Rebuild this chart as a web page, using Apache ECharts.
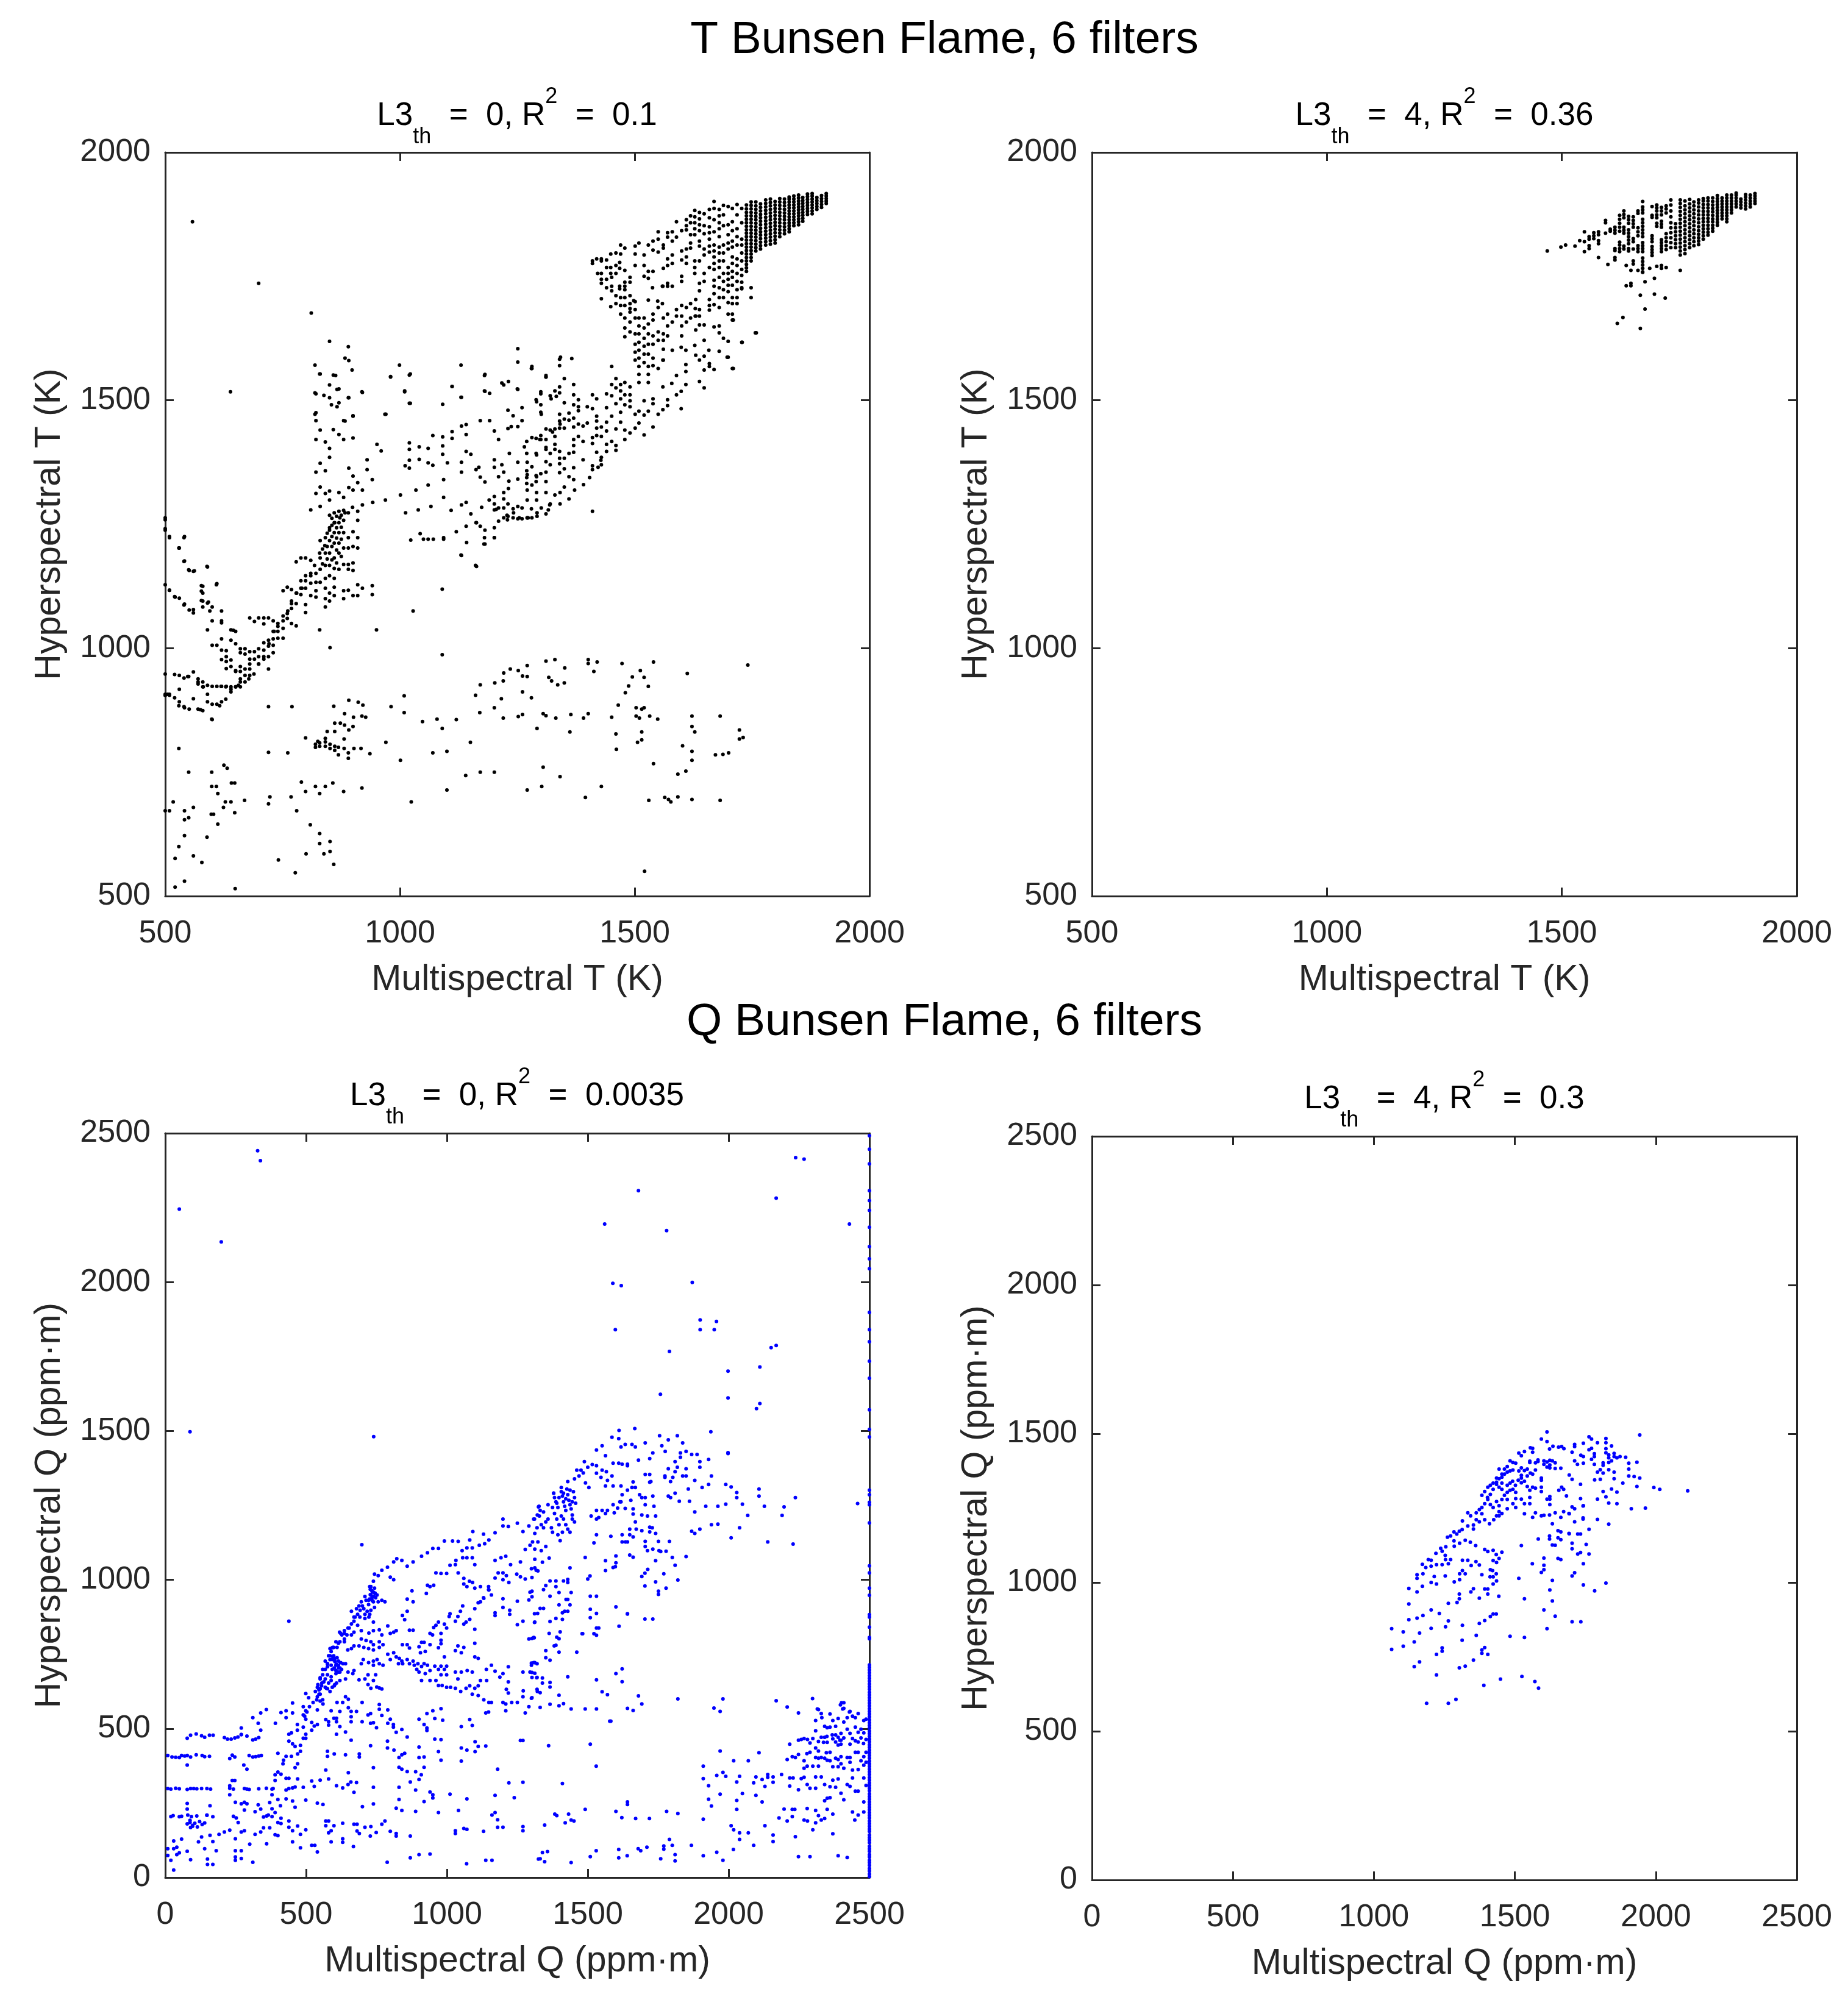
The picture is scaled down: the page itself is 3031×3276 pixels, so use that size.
<!DOCTYPE html>
<html>
<head>
<meta charset="utf-8">
<title>Bunsen Flame, 6 filters</title>
<script src="https://cdn.jsdelivr.net/npm/echarts@6/dist/echarts.min.js"></script>
<style>
  html, body { margin: 0; padding: 0; background: #fff; }
  #chart { width: 3031px; height: 3276px; }
</style>
</head>
<body>
<div id="chart"></div>
<script>
// =====================================================================================================================
// Data (x = multispectral, y = hyperspectral)

const tTicks = [500, 1000, 1500, 2000];
const qTicks = [0, 500, 1000, 1500, 2000, 2500];

// --- T, L3th = 0 : dense top right columns [x, [y...]]
const t0Cols = [
  [1908, [1897, 1902, 1907, 1912, 1917]],
  [1898, [1889, 1895, 1901, 1907, 1913]],
  [1888, [1885, 1891, 1897, 1903, 1909]],
  [1878, [1876, 1882, 1888, 1894, 1900, 1906, 1912, 1917]],
  [1868, [1875, 1881, 1887, 1893, 1899, 1905, 1911, 1916]],
  [1858, [1861, 1867, 1873, 1879, 1885, 1891, 1897, 1903, 1909]],
  [1849, [1854, 1860, 1866, 1872, 1878, 1884, 1890, 1896, 1902, 1908, 1914]],
  [1839, [1852, 1858, 1864, 1870, 1876, 1882, 1888, 1894, 1900, 1906, 1912]],
  [1829, [1840, 1846, 1852, 1858, 1864, 1870, 1876, 1882, 1888, 1894, 1900, 1906, 1910]],
  [1819, [1836, 1843, 1850, 1857, 1864, 1871, 1878, 1885, 1892, 1899, 1906]],
  [1809, [1830, 1837, 1844, 1851, 1858, 1865, 1872, 1879, 1886, 1893, 1900, 1907]],
  [1799, [1817, 1824, 1831, 1838, 1845, 1852, 1859, 1866, 1873, 1880, 1887, 1894, 1901]],
  [1789, [1815, 1822, 1829, 1836, 1843, 1850, 1857, 1864, 1871, 1878, 1885, 1892, 1899, 1906]],
  [1779, [1813, 1820, 1827, 1834, 1841, 1848, 1855, 1862, 1869, 1876, 1883, 1890, 1897, 1904]],
  [1768, [1805, 1812, 1819, 1826, 1833, 1840, 1847, 1854, 1861, 1868, 1875, 1882, 1889, 1896]],
  [1758, [1801, 1808, 1815, 1822, 1829, 1836, 1843, 1850, 1857, 1864, 1871, 1878, 1885, 1892, 1900]],
  [1748, [1781, 1788, 1795, 1802, 1809, 1816, 1823, 1830, 1837, 1844, 1851, 1858, 1865, 1872, 1879, 1886, 1893, 1900]],
  [1738, [1760, 1767, 1774, 1781, 1788, 1795, 1802, 1809, 1816, 1823, 1830, 1837, 1844, 1851, 1858, 1865, 1872, 1879, 1886, 1894]]
];

// --- T, L3th = 0 : upper cluster (1260 < x < 1760)
const t0Upper = [
  [1410,1781],[1410,1776],[1419,1785],[1429,1785],[1440,1783],[1429,1781],[1421,1756],[1429,1756],[1429,1744],[1429,1736],
  [1440,1744],[1440,1727],[1449,1756],[1451,1748],[1451,1730],[1451,1721],[1440,1768],[1449,1768],[1460,1772],[1460,1756],
  [1468,1778],[1468,1766],[1479,1762],[1470,1813],[1479,1807],[1470,1795],[1460,1797],[1449,1795],[1501,1811],[1509,1817],
  [1501,1795],[1520,1793],[1501,1772],[1520,1772],[1529,1813],[1539,1821],[1550,1825],[1550,1840],[1539,1803],[1550,1799],
  [1561,1813],[1561,1807],[1570,1838],[1570,1829],[1580,1840],[1580,1821],[1589,1860],[1589,1829],[1600,1842],[1610,1864],
  [1610,1852],[1610,1844],[1619,1872],[1619,1858],[1619,1834],[1619,1817],[1619,1807],[1600,1801],[1610,1805],[1610,1789],
  [1610,1776],[1600,1783],[1580,1793],[1570,1785],[1570,1772],[1580,1776],[1561,1766],[1539,1760],[1529,1760],[1520,1750],
  [1529,1746],[1490,1748],[1490,1738],[1479,1738],[1479,1730],[1468,1730],[1468,1725],[1538,1727],[1559,1730],[1570,1730],
  [1580,1730],[1600,1750],[1600,1740],
  [1628,1883],[1628,1870],[1628,1858],[1628,1846],[1628,1834],[1628,1781],[1628,1768],[1628,1756],
  [1638,1879],[1638,1866],[1638,1854],[1638,1842],[1638,1821],[1638,1811],[1638,1781],[1638,1736],[1638,1721],
  [1648,1876],[1648,1852],[1648,1836],[1648,1805],[1648,1793],[1648,1756],[1648,1740],
  [1659,1885],[1659,1868],[1659,1850],[1659,1838],[1659,1825],[1659,1811],[1659,1799],[1659,1768],[1659,1703],[1659,1691],[1659,1682],
  [1669,1901],[1669,1887],[1669,1864],[1669,1840],[1669,1813],[1669,1801],[1669,1789],[1669,1776],[1669,1764],[1669,1742],[1669,1730],[1669,1715],[1669,1693],
  [1680,1885],[1680,1872],[1680,1858],[1680,1846],[1680,1830],[1680,1809],[1680,1797],[1680,1781],[1680,1768],[1680,1748],[1680,1727],[1680,1707],[1680,1687],
  [1689,1893],[1689,1874],[1689,1852],[1689,1813],[1689,1797],[1689,1781],[1689,1756],[1689,1740],[1689,1723],[1689,1707],
  [1699,1891],[1699,1854],[1699,1834],[1699,1817],[1699,1805],[1699,1768],[1699,1756],[1699,1744],[1699,1732],[1699,1719],[1699,1697],[1699,1674],
  [1708,1887],[1708,1860],[1708,1842],[1708,1821],[1708,1809],[1708,1789],[1708,1776],[1708,1760],[1708,1748],[1708,1732],[1708,1707],[1708,1695],
  [1718,1895],[1718,1874],[1718,1846],[1718,1830],[1718,1813],[1718,1785],[1718,1772],[1718,1756],[1718,1740],[1718,1723],[1718,1707],[1718,1695],
  [1728,1887],[1728,1858],[1728,1825],[1728,1813],[1728,1797],[1728,1781],[1728,1764],[1728,1752],[1728,1738],[1728,1727],
  [1748,1727],[1748,1707],[1728,1725],[1708,1662],[1708,1674],
  [1429,1705],[1449,1689],[1460,1711],[1460,1695],[1470,1707],[1470,1691],[1470,1674],[1479,1723],[1479,1707],[1479,1691],
  [1479,1666],[1479,1646],[1479,1628],[1490,1711],[1490,1695],[1490,1678],[1490,1658],[1490,1638],[1501,1699],[1501,1683],
  [1501,1666],[1501,1634],[1501,1613],[1501,1597],[1501,1581],[1509,1666],[1509,1650],[1509,1634],[1509,1617],[1509,1601],
  [1509,1585],[1509,1568],[1509,1552],[1509,1536],[1520,1666],[1520,1646],[1520,1625],[1520,1609],[1520,1593],[1520,1576],
  [1529,1654],[1529,1634],[1529,1613],[1529,1593],[1529,1568],[1529,1552],[1529,1536],[1539,1674],[1539,1662],[1539,1630],
  [1539,1613],[1539,1585],[1539,1570],[1550,1687],[1550,1638],[1550,1621],[1550,1564],[1561,1666],[1561,1634],[1561,1621],
  [1561,1603],[1561,1581],[1570,1674],[1570,1650],[1570,1630],[1580,1658],[1580,1601],[1589,1670],[1589,1683],[1600,1691],
  [1600,1670],[1600,1650],[1600,1630],[1610,1687],[1610,1658],[1619,1695],[1619,1666],[1630,1703],[1630,1670],[1630,1642],
  [1638,1683],[1638,1670],[1638,1652],[1648,1652],[1648,1621],[1669,1648],[1680,1650],[1680,1636],[1689,1625],[1699,1619],
  [1710,1662],[1728,1617],[1759,1636],[1628,1611],[1630,1591],[1638,1581],[1648,1589],[1659,1574],[1659,1568],[1669,1562],
  [1680,1599],[1699,1587],[1708,1564],[1648,1561],[1658,1601],[1599,1607],[1609,1601],[1560,1581],[1609,1572],[1609,1558],
  [1589,1550],[1579,1534],[1609,1532],[1638,1538],[1648,1525],[1599,1518],[1589,1511],[1599,1483],[1560,1527],[1560,1481],
  [1570,1501],[1570,1489],[1550,1472],[1539,1503],[1539,1493],[1539,1446],[1529,1478],[1520,1499],[1520,1470],[1520,1430],
  [1509,1478],[1509,1454],[1501,1472],[1501,1444],[1490,1527],[1490,1511],[1490,1499],[1490,1487],[1490,1434],[1479,1536],
  [1479,1511],[1479,1491],[1479,1440],[1479,1421],[1470,1532],[1470,1519],[1470,1503],[1470,1476],[1470,1456],[1460,1544],
  [1460,1525],[1460,1493],[1460,1442],[1460,1409],[1460,1399],[1451,1568],[1451,1532],[1451,1509],[1451,1468],[1451,1417],
  [1440,1513],[1440,1485],[1440,1456],[1440,1438],[1440,1411],[1440,1397],[1429,1446],[1429,1427],[1429,1385],[1429,1370],
  [1419,1503],[1419,1468],[1419,1458],[1419,1444],[1419,1429],[1419,1395],[1410,1511],[1410,1483],[1410,1425],[1410,1413],
  [1410,1368],[1410,1360],[1399,1487],[1399,1454],[1390,1448],[1390,1417],[1390,1380],[1380,1501],[1380,1487],[1380,1479],
  [1380,1452],[1380,1427],[1370,1532],[1370,1511],[1370,1491],[1370,1464],[1370,1446],[1370,1421],[1370,1409],[1370,1395],
  [1370,1364],[1370,1340],[1360,1474],[1360,1460],[1360,1393],[1360,1346],[1350,1544],[1350,1495],[1350,1462],[1350,1444],
  [1350,1383],[1350,1362],[1350,1325],[1340,1583],[1340,1570],[1340,1527],[1340,1515],[1340,1472],[1340,1458],[1340,1444],
  [1340,1397],[1340,1383],[1340,1372],[1340,1354],[1330,1519],[1330,1442],[1330,1427],[1330,1411],[1320,1509],[1320,1440],
  [1320,1393],[1320,1370],[1311,1550],[1311,1442],[1311,1421],[1311,1405],[1311,1376],[1311,1336],[1300,1517],[1300,1491],
  [1300,1476],[1300,1429],[1300,1421],[1300,1352],[1290,1501],[1290,1423],[1290,1393],[1290,1348],[1290,1336],[1281,1568],
  [1281,1425],[1281,1366],[1281,1329],[1270,1417],[1270,1393],[1270,1358],[1270,1344],[1270,1332],
  [1560,1730],[1570,1736],[1559,1695],[1549,1700],[1529,1702],[1498,1701],[1490,1685],[1629,1685],[1629,1670],[1697,1587],
  [1757,1636],[1729,1617],[1710,1564]
];

// --- T, L3th = 0 : main diagonal band and left side
const t0Band = [
  [505,907],[530,917],[548,943],[570,932],[581,922],[600,923],[619,923],[629,922],[640,917],[656,925],[678,938],[689,948],
  [699,968],[710,983],[721,1009],[732,1034],[740,1044],[751,1065],[761,1075],[769,1090],[780,1111],[791,1121],[799,1136],
  [810,1151],[818,1167],[829,1192],[840,1207],[850,1238],[861,1253],[872,1263],[883,1273],[899,1284],
  [920,1289],[942,1294],[969,1299],[1001,1309],[1034,1319],[1060,1329],[1093,1340],[1131,1355],[1168,1365],[1201,1380],
  [1233,1393],[1265,1406],[1298,1421],[1325,1436],[1341,1452],
  [1012,1273],[1039,1279],[1066,1286],[1093,1304],[1141,1294],[1174,1284],[1201,1279],[1228,1268],[1254,1263],[1271,1263],
  [1292,1273],[1319,1289],[1341,1314],[1023,1218],[1050,1220],[1060,1220],[1071,1220],[1093,1220],[1120,1235],[1141,1246],
  [1163,1253],[1179,1210],[1201,1223],[1131,1187],[1163,1165],
  [821,1513],[830,1553],[850,1531],[858,1551],[821,1475],[821,1459],[830,1440],[821,1421],[841,1416],[850,1403],[850,1385],
  [830,1373],[841,1358],[821,1355],[830,1325],[841,1312],[850,1317],[850,1299],[821,1312],[830,1286],[810,1279],[870,1314],
  [880,1304],[891,1324],[900,1319],[910,1334],[920,1319],[900,1347],[891,1363],[930,1360],[930,1380],[941,1340],[900,1468],
  [890,1505],[880,1459],[870,1495],[870,1523],[858,1441],[870,1431],[880,1421],[900,1424],[920,1516],[951,1411],[960,1398],
  [970,1472],[980,1547],[1020,1551],[1010,1517],[1020,1494],[1091,1492],[1111,1528],[1131,1506],[1181,1552],[1181,1518],
  [1191,1514],[1171,1459],[1191,1459],[1201,1438],[1210,1421],[1231,1538],[1250,1523],[1221,1531],[1281,1564],[1311,1547],
  [1300,1513],[1322,1503],[1333,1508],[1230,1480],[1241,1469],[1260,1485],[1260,1459],[1237,1447],[1251,1447],[1230,1443],
  [1291,1497],[1301,1472],
  [1020,1414],[1020,1401],[1041,1406],[1060,1403],[1070,1429],[1091,1426],[1091,1408],[1111,1437],[1111,1423],[1141,1431],
  [1131,1448],[1141,1451],[1151,1391],[1141,1397],[1091,1391],[1101,1374],[1060,1374],[1041,1381],[1020,1379],[1020,1363],
  [1011,1368],[1070,1369],[1131,1375],[1162,1360],[1171,1345],[1181,1335],[1210,1346],[1221,1355],[1232,1337],[1251,1341],
  [1271,1350],[1291,1346],[1311,1355],[1330,1401],[1311,1401],[1291,1390],[1271,1375],[1251,1375],[1217,1370],[1201,1365],
  [1109,1278],[1131,1289],[1151,1271],[1162,1253],[1171,1246],[1181,1238],[1190,1299],[1201,1291],[1210,1283],[1221,1301],
  [1221,1283],[1230,1291],[1241,1281],[1251,1286],[1260,1283],[1271,1299],[1280,1281],[1291,1299],[1301,1283],[1311,1271],
  [1320,1291],[1330,1309],[1311,1314],[1291,1314],[1271,1319],[1231,1322],[1221,1314],[1201,1306],[1230,1266],[1241,1263],
  [1251,1261],[1260,1261],[1271,1263],[1281,1263],[1221,1263],[1210,1256],[1201,1243],[1201,1223],[1181,1210],
  [1410,1276],[1360,1301],[1316,1279],[1341,1291],[1372,1319],[1391,1330],[1404,1344],[1422,1365],[1428,1379],[1292,1266],
  [1273,1263],[1242,1273],[1229,1259],[1205,1280],[1180,1223],[1142,1213],[1093,1223],[1043,1231],
  [500,1263],[500,1238],[509,1223],[540,1223],[530,1202],[540,1175],[551,1157],[560,1155],[590,1164],[509,1117],[520,1104],
  [530,1101],[540,1087],[551,1077],[560,1071],[580,1125],[580,1111],[580,1095],[580,1083],[590,1091],[600,1083],[610,1130],
  [600,1055],[620,1075],[620,1051],[590,1037],[600,1006],[610,1006],[620,1019],[620,996],[630,995],[630,983],[640,1037],
  [650,1034],[640,1016],[650,1009],[630,973],[640,976],[620,977],[630,959],[640,963],[650,955],[660,999],[660,991],[670,999],
  [670,988],[680,993],[660,963],[670,958],[660,953],[650,953],[670,945],[680,978],[680,968],[680,958],[680,945],[660,938],
  [660,922],[650,922],[670,932],[690,993],[690,978],[699,999],[699,983],[699,968],[710,996],[710,978],[720,983],[720,958],
  [730,991],[680,1061],[690,1054],[699,1061],[710,1061],[720,1061],[710,1049],[730,1055],[740,1050],[740,1034],[751,1055],
  [751,1040],[751,1020],[740,1020],[730,1034],[730,1019],[730,1006],[720,1016],[720,1004],[710,1011],[760,1070],[760,1060],
  [751,1116],[760,1123],[769,1118],[769,1095],[769,1080],[779,1111],[779,1090],[769,1050],[779,1045],[789,1182],[779,1174],
  [799,1182],[799,1146],[789,1136],[789,1121],[789,1108],[799,1121],[799,1088],[799,1072],[810,1177],[810,1146],[810,1131],
  [810,1106],[821,1151],[821,1133],[821,1116],[821,1103],[830,1217],[830,1182],[830,1159],[830,1133],[841,1223],[841,1192],
  [841,1167],[841,1141],[841,1121],[841,1100],[841,1083],[850,1268],[850,1243],[850,1217],[850,1192],[850,1167],[850,1146],
  [850,1111],[850,1095],[860,1273],[860,1253],[860,1233],[860,1212],[860,1182],[860,1161],[860,1141],[860,1123],[860,1106],
  [870,1276],[870,1253],[870,1233],[870,1212],[870,1192],[870,1159],[880,1278],[880,1258],[880,1233],[880,1202],[880,1169],
  [880,1116],[880,1100],[890,1273],[890,1202],[890,1169],[890,1159],[890,1117],[900,1172],[900,1157],[900,1205],[900,1106],
  [910,1258],[910,1223],[910,1202],[910,1128],[910,1106],[920,1121],[941,1126],[941,1108],[900,1235],[890,1223],[910,1276],
  [855,1262],[855,1248],[855,1225],[855,1205],[855,1178],[865,1266],[865,1243],[865,1222],[865,1198],[865,1172],[875,1268],
  [875,1244],[875,1220],[875,1185],[845,1232],[845,1205],[845,1180],[835,1200],[835,1170],
  [509,907],[520,900],[530,892],[540,882],[551,877],[560,898],[570,877],[580,874],[590,907],[590,892],[600,887],[600,856],
  [610,887],[620,892],[629,897],[500,948],[520,947],[530,945],[540,940],[550,943],[560,952],[570,938],[570,928],[580,932],
  [580,922],[590,925],[610,923],[620,923],[630,923],[640,922],[640,912],[650,922],[660,932],[500,907],[500,905]
];

// --- T, L3th = 0 : lower scatter and stray points
const t0Low = [
  [500,1259],[500,1241],[509,1225],[541,1225],[529,1202],[541,1176],[550,1158],[562,1156],[589,1165],[500,1128],[509,1117],
  [521,1103],[541,1089],[560,1078],[577,1126],[577,1115],[577,1096],[592,1093],[609,1128],[595,1075],[620,1055],[645,1036],
  [829,1037],[851,1001],[950,1037],[1028,1075],[1090,1119],[1130,1188],[1161,1167],[1090,987],
  [500,905],[509,905],[529,884],[541,880],[575,876],[599,857],[616,884],[529,798],[550,750],[500,672],[509,672],[517,690],
  [541,672],[550,658],[560,679],[541,654],[541,622],[529,600],[521,576],[560,581],[578,568],[589,619],[541,530],[521,518],
  [599,750],[599,721],[609,721],[612,707],[625,764],[632,758],[641,728],[648,728],[628,690],[624,679],[640,690],[648,668],
  [603,665],[598,665],[612,645],[669,693],[649,515],[720,882],[770,882],[720,790],[761,789],[723,700],[720,686],[768,700],
  [780,672],[790,730],[799,711],[799,819],[809,644],[800,585],[829,626],[829,606],[838,585],[851,610],[851,590],[859,564],
  [777,547],[741,573],[820,806],[820,800],[829,809],[829,802],[841,811],[841,802],[851,806],[851,798],[861,802],[861,794],
  [869,785],[869,800],[881,817],[881,798],[890,789],[890,778],[902,798],[917,798],[936,787],[845,832],[861,832],[861,849],
  [873,849],[882,845],[891,835],[900,842],[919,863],[927,861],[901,861],[882,868],[859,883],[891,895],[911,891],[921,885],
  [841,818],[825,812],[820,721],[841,721],[829,707],[857,728],[880,711],[919,718],[970,810],[1001,774],[981,882],[1009,904],
  [1009,870],[1048,852],[1079,857],[1090,838],[1100,792],[1070,789],[1120,856],[1150,810],[1140,743],[1171,750],[1201,750],
  [1100,714],[1024,690],[1171,926],[1202,930],[1221,950],[1220,934],[1235,958],[1252,955],[1271,965],[1261,944],[1271,943],
  [1161,905],[1216,898],[1261,912],[1280,900],[1201,880],[1170,870],[1220,859],[1252,862],[1261,866],[1292,838],[1305,868],
  [1311,864],[1332,859],[1317,941],[1323,934],[1336,926],[1311,974],[1330,977],[1351,960],[1350,930],[1364,866],[1362,831],
  [1391,859],[1401,868],[1451,861],[1460,827],[1461,796],[1395,699],[1429,721],[1341,741],[1305,760],[1271,714],[1302,721],
  [1401,977],[1401,969],[1420,972],[1413,953],[1473,969],[1465,885],[1480,910],[1487,924],[1495,942],[1503,880],[1515,877],
  [1520,880],[1532,863],[1549,857],[1510,859],[1503,863],[1512,955],[1520,941],[1529,923],[1515,831],[1515,815],[1506,810],
  [1540,972],[1540,767],[1530,693],[1564,699],[1572,695],[1577,690],[1592,700],[1592,746],[1602,803],[1609,752],[1622,792],
  [1622,774],[1622,842],[1628,831],[1622,863],[1612,949],[1622,695],[1682,693],[1682,863],[1672,785],[1688,786],[1700,789],
  [1723,835],[1723,817],[1731,820],[1741,966],[1521,550],
  [558,1860],[699,1736],[811,1676],[639,1517],[850,1619],[890,1608],[883,1585],[819,1571],[891,1580],[829,1553],[863,1550],
  [898,1561],[819,1515],[838,1510],[850,1505],[866,1522],[891,1505],[854,1491],[866,1487],[819,1472],[900,1469],[883,1458],
  [919,1517],[968,1472],[999,1571],[1022,1553],[980,1548],[1010,1519],[1022,1494],[1111,1528],[1130,1506],[1130,1571],
  [1180,1550],[1180,1519],[1217,1535],[1251,1604],[1251,1577],[1280,1564],[1311,1547],[1251,1522],[1342,1587],[1366,1584]
];

// --- T, L3th = 4 : columns [x, [y...]] and stray points
const t4Cols = [
  [1911, [1897, 1902, 1907, 1912, 1917]],
  [1901, [1890, 1896, 1902, 1908, 1914]],
  [1891, [1886, 1892, 1898, 1904, 1910, 1915]],
  [1881, [1888, 1894, 1900, 1906]],
  [1871, [1890, 1896, 1902, 1908, 1914, 1918]],
  [1861, [1878, 1884, 1890, 1896, 1902, 1908, 1914]],
  [1851, [1860, 1866, 1872, 1878, 1884, 1890, 1896, 1902, 1908, 1914]],
  [1841, [1866, 1872, 1878, 1884, 1890, 1896, 1902, 1908]],
  [1831, [1853, 1859, 1865, 1871, 1877, 1883, 1889, 1895, 1901, 1907, 1913]],
  [1821, [1841, 1847, 1853, 1860, 1866, 1873, 1880, 1887, 1894, 1901, 1908]],
  [1811, [1833, 1839, 1846, 1853, 1860, 1867, 1874, 1881, 1888, 1895, 1902, 1908]],
  [1801, [1825, 1832, 1839, 1846, 1853, 1860, 1867, 1874, 1881, 1888, 1895, 1902, 1907]],
  [1791, [1814, 1821, 1828, 1835, 1842, 1850, 1858, 1866, 1874, 1882, 1890, 1898, 1904]],
  [1781, [1812, 1820, 1828, 1836, 1844, 1852, 1860, 1868, 1876, 1884, 1892, 1900]],
  [1772, [1808, 1816, 1824, 1832, 1840, 1848, 1856, 1864, 1872, 1880, 1888, 1896, 1905]],
  [1762, [1796, 1804, 1812, 1820, 1828, 1836, 1844, 1852, 1860, 1868, 1876, 1884, 1892, 1902]],
  [1752, [1793, 1801, 1809, 1817, 1825, 1833, 1841, 1849, 1857, 1865, 1873, 1881, 1889, 1897, 1904]],
  [1742, [1808, 1816, 1824, 1832, 1840, 1848, 1856]],
  [1732, [1808, 1818, 1828, 1838, 1848, 1858, 1870, 1882, 1894, 1904]],
  [1722, [1878, 1886, 1892, 1804, 1812, 1820, 1828, 1836]],
  [1712, [1874, 1882, 1889, 1849, 1855, 1861, 1800, 1806, 1812, 1818, 1824, 1766, 1772]],
  [1702, [1882, 1888, 1894, 1868, 1874, 1851, 1857]],
  [1692, [1891, 1869, 1873, 1820, 1826, 1832, 1792, 1798, 1804, 1810]],
  [1672, [1901, 1878, 1884, 1890, 1830, 1837, 1844, 1851, 1858, 1865, 1800, 1806, 1812, 1818, 1759, 1766, 1773, 1780, 1787]],
  [1662, [1877, 1882, 1832, 1840, 1848, 1800, 1806, 1812]],
  [1652, [1849, 1856, 1863, 1870, 1820, 1826, 1805, 1775, 1781]],
  [1642, [1857, 1864, 1871, 1816, 1823, 1830, 1837, 1844, 1801, 1806]],
  [1632, [1868, 1875, 1882, 1837, 1843, 1849, 1805, 1811]],
  [1623, [1841, 1849, 1857, 1865, 1873, 1813, 1819, 1800, 1806]],
  [1613, [1837, 1843, 1849, 1802, 1806, 1783, 1788]],
  [1603, [1841, 1845]],
  [1593, [1858, 1863, 1837]],
  [1578, [1834, 1840, 1816, 1822, 1788]],
  [1568, [1826, 1832, 1838]],
  [1558, [1825, 1830, 1806, 1812]],
  [1548, [1840, 1820, 1800]],
  [1538, [1822]],
  [1528, [1811]],
  [1508, [1813]],
  [1498, [1809]],
  [1469, [1801]]
];
const t4Stray = [
  [1598,1774],[1637,1772],[1647,1762],[1662,1762],[1672,1758],[1687,1766],[1702,1770],[1722,1768],[1752,1762],[1697,1746],
  [1647,1736],[1647,1731],[1637,1731],[1677,1739],[1667,1712],[1697,1714],[1720,1706],[1677,1684],[1630,1667],[1618,1655],
  [1667,1645]
];

// --- Q, L3th = 0 : left part (x < 500)
const q0Left = [
  [9,410],[24,405],[37,404],[50,403],[58,410],[69,408],[78,410],[90,405],[110,412],[131,410],[140,406],[157,407],[229,400],
  [238,411],[247,405],[298,410],[311,405],[321,406],[332,408],[341,410],
  [78,468],[90,478],[110,482],[129,476],[140,471],[157,478],[170,478],[210,470],[221,465],[234,465],[247,469],[258,472],
  [270,480],[290,475],[311,462],[321,465],[332,470],
  [9,299],[20,297],[37,300],[50,298],[78,296],[90,299],[101,299],[112,298],[129,299],[148,299],[161,297],[229,300],[242,297],
  [281,299],[290,297],[298,296],[332,298],[359,300],[379,297],[383,299],
  [20,205],[28,208],[50,204],[58,206],[80,210],[93,205],[112,207],[148,209],[169,204],[242,206],[252,200],[349,203],[360,207],
  [366,210],[379,205],[78,180],[88,185],[97,175],[105,182],[114,170],[122,188],[131,178],[140,183],[90,168],[97,172],
  [9,97],[30,123],[58,129],[30,97],[41,102],[9,74],[20,58],[41,77],[50,83],[78,88],[90,60],[30,25],[118,120],[129,136],
  [140,97],[150,62],[150,44],[169,44],[159,142],[169,121],[181,90],[191,145],[210,153],[229,159],[249,130],[249,90],[249,69],
  [249,58],[270,90],[270,64],[270,153],[281,157],[300,112],[311,51],[319,145],[339,153],[349,167],[360,113],[371,167],
  [390,144],[400,141],[411,181],[411,199],[400,185],[439,190],[439,169],[452,157],[452,120],[470,173],[480,145],[480,100],
  [78,378],[78,249],[78,230],[88,192],[159,241],[148,210],[229,308],[229,278],[238,326],[247,326],[249,253],[259,185],
  [270,248],[281,253],[281,227],[290,248],[279,378],[290,364],[319,221],[330,244],[339,230],[371,252],[379,231],[379,278],
  [390,218],[390,326],[390,345],[400,354],[411,347],[400,262],[409,241],[429,333],[439,333],[429,264],[429,294],[439,299],
  [452,301],[452,257],[461,304],[461,236],[470,331],[461,369],[470,382],[490,303],[499,260],
  [499,618],[509,604],[490,574],[499,560],[490,546],[499,532],[469,514],[469,495],[448,486],[439,481],[439,458],[452,449],
  [461,440],[480,444],[490,468],[499,468],[499,481],[480,424],[470,415],[448,407],[429,407],[420,394],[418,382],[400,417],
  [391,518],[411,554],[429,537],[429,560],[452,553],[452,586],[359,564],[339,553],[311,537],[330,518],[339,495],[270,502],
  [270,480],[490,505],[439,861]
];

// --- Q, L3th = 0 : main cloud (500 < x < 1330)
const q0Cloud = [
  [520,324],[529,306],[540,250],[550,327],[560,245],[570,361],[580,331],[608,308],[630,301],[649,312],[659,321],[670,286],
  [679,319],[650,352],[700,238],[739,369],[739,303],[739,247],[576,424],[576,407],[600,415],[640,412],[689,415],[689,405],
  [660,461],[729,443],[789,458],[789,435],[812,428],[830,403],[840,412],[850,417],[830,370],[840,364],[859,356],[870,321],
  [889,355],[901,329],[909,345],[919,370],[901,403],[901,438],[919,405],[889,294],[830,303],[830,262],[820,233],[840,225],
  [889,222],[919,255],[940,287],[950,278],[950,267],[970,218],[970,423],[979,394],[957,465],[979,463],[1011,280],[1041,225],
  [1051,435],[1051,391],[1071,428],[1071,264],[1100,456],[1100,423],[1111,440],[1138,442],[1160,210],[1171,218],[1171,276],
  [1180,194],[1180,364],[1220,318],[1239,268],[1261,460],[1270,460],[1270,320],
  [499,160],[520,108],[531,108],[540,86],[570,190],[580,190],[570,174],[580,150],[589,157],[599,174],[589,120],[630,130],
  [630,118],[630,182],[668,104],[670,179],[681,179],[681,156],[689,148],[709,169],[728,139],[730,171],[749,151],[769,179],
  [780,190],[799,155],[820,148],[820,139],[870,139],[870,66],[788,51],[901,77],[940,79],[1030,157],[1030,148],[1060,165],
  [1071,162],[1070,46],[1130,155],[1138,58],[1160,58],[1180,169],[1199,169],[1270,171],[1270,157],[1325,62],
  [520,521],[520,495],[529,509],[540,514],[540,563],[550,593],[560,583],[570,531],[580,523],[580,512],[589,560],[599,535],
  [608,535],[608,523],[620,507],[620,558],[610,588],[630,588],[640,607],[650,599],[650,570],[660,558],[660,540],[660,523],
  [640,489],[608,481],[679,558],[699,588],[699,523],[720,546],[729,551],[729,518],[739,520],[750,503],[760,565],[769,544],
  [760,581],[790,563],[790,518],[799,532],[810,514],[810,505],[820,488],[840,497],[859,472],[901,532],[919,514],[929,502],
  [929,494],[957,534],[985,528],[1051,507],[1081,531],[1090,511],[979,567],[950,560],[929,551],[1138,553],[1148,556],
  [1209,560],[1278,553],[1291,574],
  [698,1118],[811,1060],[822,1071],[840,1065],[859,1046],[880,1060],[910,1079],[931,1091],[950,1105],[970,1105],[991,1130],
  [1020,1130],[1040,1129],[1081,1134],[1092,1162],[1130,1153],[1149,1134],[1171,1158],[1199,1204],[1199,1181],[1218,1179],
  [1250,1190],[1270,1162],[1291,1181],[1311,1204],[1325,1245],[1321,1218],
  [743,1019],[756,1014],[769,1032],[789,1042],[799,1009],[811,1000],[739,995],[730,977],[728,968],[739,958],[752,949],
  [734,940],[722,931],[709,944],[696,926],[688,912],[705,903],[717,894],[730,898],[743,907],[756,926],[769,931],[780,926],
  [679,903],[661,894],[674,875],[691,875],[709,870],[723,875],[739,858],[670,861],[683,847],[653,838],[636,820],[645,815],
  [661,815],[670,824],[696,829],[723,821],[739,829],[760,832],[769,815],[696,801],[713,796],[730,792],[739,782],[760,792],
  [773,782],[760,773],[739,764],[722,769],[705,773],[688,778],[670,778],[661,769],[648,764],[636,792],[620,792],[610,773],
  [593,772],[585,745],[593,732],[602,736],[615,727],[606,713],[620,704],[606,695],[615,690],[631,718],[640,718],[576,718],
  [568,699],[559,681],[550,667],[542,648],[550,634],[568,639],[576,634],[580,653],[589,674],[589,662],[600,644],[608,653],
  [620,662],[640,667],[649,690],[666,685],[670,695],[688,664],[709,667],[720,681],[720,648],[730,636],[739,662],[747,681],
  [751,640],[760,637],[769,633],[703,732],[722,722],[739,727],[752,732],[760,718],[696,718],[739,713],[773,713],[790,750],
  [811,755],[799,732],[820,741],[831,736],[840,727],[828,718],[843,718],[859,732],[867,718],[880,727],[884,713],[897,718],
  [910,709],[919,718],[931,713],[893,699],[901,690],[910,662],[923,685],[940,695],[940,662],[957,710],[970,699],[979,710],
  [979,681],[991,699],[999,710],[999,681],[961,662],[970,645],[983,645],[999,639],[1013,639],[1030,690],[1039,667],
  [1051,690],[1072,695],[1030,636],[1049,625],[1068,636],[1081,644],[1099,636],[1111,644],[1090,616],[1111,611],[1131,597],
  [1149,588],[1158,588],[1199,588],[1209,583],[1218,620],[1211,632],[1230,588],[1250,588],[1271,627],[1270,607],[1300,602],
  [1321,625],[1188,673],[1199,685],[1218,708],[1218,657],[1140,699],[1158,713],[1171,693],[1119,662],[1141,662],[1099,741],
  [1090,690],[1270,690],[1295,690],[1308,722],[1300,713],[1319,671],
  [790,845],[799,820],[811,824],[820,829],[842,880],[850,866],[859,894],[867,831],[880,831],[842,782],[859,782],[867,771],
  [901,775],[910,790],[919,790],[923,759],[906,755],[940,782],[949,815],[940,820],[953,840],[961,847],[970,858],[979,820],
  [991,851],[999,838],[1008,877],[1011,886],[1030,861],[1039,877],[1048,894],[1056,912],[1060,851],[1068,858],[1081,867],
  [1099,903],[1111,923],[1119,926],[1131,938],[1148,967],[1148,977],[1158,949],[1171,880],[1171,889],[1199,907],[1199,936],
  [1223,898],[1223,884],[1250,928],[1250,849],[1270,861],[1291,801],[1308,806],[1311,857],[1291,932],[1295,958],[1311,886],
  [1099,834],[1099,787],[1111,736],[1039,778],[1060,773],[1051,755],[1030,762],[991,741],[979,797],[979,785],[970,772],
  [859,935],[880,926],[876,963],[927,954],[940,977],[953,982],[931,982],[961,1023],[979,1021],[999,1021],[1011,1049],
  [1030,1051],[1040,1023],[1060,1005],[1060,986],[1071,977],[1080,995],[1091,991],[1099,972],[1119,977],[1130,940],
  [1149,966],[1171,1006],[1182,1023],[1199,1023],[1211,1014],[1199,1000],[1220,991],[1248,1019],[1261,1010],[1278,1003],
  [1300,1037],[1317,1032],[1056,1074],[1071,1074],[1090,1074],[1099,1051],[1032,1065],[1054,1098],[1071,1107],[1090,1107],
  [1115,1116],[1134,1121],[1171,1065],[1192,1074],[1209,1079],[1226,1051],[1261,1060],[1278,1102],[1295,1116],
  [619,824],[627,815],[636,801],[615,787],[598,773],[585,769],[580,745],[568,727],[576,718],[559,699],[550,671],[563,657],
  [555,644],[540,639],[572,636],[585,625],[593,639],[602,648],[550,616],[540,607],[559,597],[546,630],[595,741],[602,727],
  [608,716],[615,704],[600,704],[589,713],[608,690],[620,690],[623,722],[735,960],[728,950],[740,945],[725,935],[735,930],
  [745,955],
  [726,977],[734,963],[743,972],[730,949],[747,940],[739,926],[722,917],[713,931],[700,912],[692,898],[709,884],[726,884],
  [683,884],[670,875],[661,852],[649,838],[636,829],[623,820],[606,792],[595,773],[589,759],[598,745],[610,738],[603,725],
  [615,713],[626,699],[585,732],[576,708],[593,699],[606,685],[576,681],[568,667],[556,653],[544,636],[533,625],[546,616],
  [538,597],[525,588],[512,574],[503,556],[495,542]
];

// --- Q, L3th = 0 : right part (x > 1300)
const q0Right = [
  [1308,1204],[1327,1247],[1331,1233],[1343,1228],[1359,1252],[1375,1243],[1379,1291],[1387,1262],[1398,1276],[1406,1310],
  [1414,1291],[1422,1272],[1429,1330],[1437,1301],[1445,1262],[1453,1339],[1461,1368],[1469,1349],[1476,1368],[1488,1397],
  [1500,1378],[1484,1359],[1492,1325],[1504,1310],[1516,1387],[1531,1383],[1531,1436],[1551,1450],[1563,1417],[1586,1479],
  [1610,1474],[1618,1446],[1633,1455],[1657,1455],[1669,1446],[1680,1402],[1704,1460],[1720,1407],[1731,1426],[1755,1484],
  [1763,1450],[1775,1431],[1786,1470],[1810,1397],[1818,1484],[1829,1426],[1837,1460],[1849,1431],[1869,1421],[1888,1421],
  [1898,1397],[1898,1378],[1929,1404],[1939,1349],[1929,1320],[1906,1310],[1880,1334],[1857,1305],[1837,1349],[1810,1363],
  [1802,1344],[1774,1349],[1786,1281],[1794,1276],[1810,1291],[1825,1264],[1861,1264],[1880,1228],[1919,1247],[1962,1247],
  [1939,1185],[1962,1187],[1990,1320],[2009,1312],[2029,1293],[2029,1276],[2049,1254],[1998,1424],[2108,1305],[2108,1281],
  [2127,1247],[2190,1216],[2197,1245],[2237,1276],[2229,1120],[2139,1127],[2039,1175],[2068,1216],[2009,1141],[1990,1254],
  [1898,1170],[1880,1156],[1869,1163],[1849,1078],[1810,1049],[1800,1075],[1820,999],[1778,1096],[1790,1129],[1759,1095],
  [1751,1129],[1741,1156],[1729,1175],[1720,1161],[1704,1129],[1704,1112],[1712,1098],[1731,1103],[1741,1064],[1753,1098],
  [1770,1020],[1713,1035],[1703,1022],[1692,1011],[1703,979],[1741,993],[1751,962],[1778,972],[1751,951],[1641,885],
  [1703,868],[1731,868],[1661,1076],[1649,1083],[1600,1080],[1600,1057],[1590,1041],[1598,1044],[1563,1064],[1563,1031],
  [1491,1075],[1508,1013],[1500,1003],[1531,1151],[1522,1124],[1582,1146],[1622,1151],[1634,1127],[1649,1151],[1661,1144],
  [1622,1127],[1641,1127],[1692,1165],[1720,1177],[1741,1214],[1672,1170],[1649,1170],[1669,1194],[1692,1218],[1712,1214],
  [1735,1247],[1704,1252],[1704,1276],[1731,1281],[1684,1286],[1653,1267],[1641,1301],[1622,1286],[1614,1262],[1590,1252],
  [1570,1233],[1551,1233],[1531,1233],[1512,1214],[1531,1204],[1539,1209],[1563,1223],[1594,1225],[1606,1241],[1633,1240],
  [1661,1221],[1661,1238],[1618,1315],[1590,1315],[1563,1315],[1570,1334],[1547,1344],[1531,1358],[1551,1368],[1566,1363],
  [1586,1349],[1590,1392],[1610,1392],[1622,1388],[1641,1383],[1661,1329],[1657,1310],[1618,1262],[1641,1388],[1669,1310],
  [1692,1276],[1720,1354],[1720,1328],[1704,1354],[1724,1330],[1774,1344],[1786,1373],[1794,1330],[1818,1378],[1829,1412],
  [1849,1373],[1849,1349],
  [1379,1291],[1382,1276],[1390,1257],[1394,1243],[1406,1296],[1410,1281],[1414,1262],[1418,1247],[1422,1233],[1426,1305],
  [1429,1286],[1433,1267],[1437,1252],[1441,1238],[1445,1218],[1449,1296],[1453,1276],[1457,1257],[1406,1214],[1414,1204],
  [1422,1185],[1429,1170],[1437,1160],[1445,1204],[1453,1194],[1390,1204],[1398,1185],[1382,1223],[1371,1175],[1375,1160],
  [1359,1204],[1351,1194],[1343,1175],[1335,1185],[1328,1214],[1320,1175],[1312,1156],[1394,1151],[1402,1131],[1410,1160],
  [1304,1127],[1323,1127],[1312,1103],[1335,1098],[1351,1112],[1363,1073],[1339,1059],[1312,1069],[1312,1040],[1323,1030],
  [1302,1008],[1351,981],[1343,967],[1302,962],[1302,943],[1366,996],[1387,996],[1387,977],[1398,957],[1398,916],[1366,945],
  [1414,996],[1429,1001],[1429,991],[1437,1040],[1441,957],[1429,934],[1418,894],[1429,894],[1410,889],[1410,867],[1387,870],
  [1366,860],[1331,904],[1343,904],[1322,887],[1312,858],[1302,803],[1310,805],[1363,820],[1381,778],[1387,780],[1402,825],
  [1398,802],[1390,807],[1398,757],[1366,730],[1351,762],[1351,738],[1461,757],[1482,819],[1509,945],[1531,945],[1509,901],
  [1531,887],[1509,873],[1531,838],[1539,838],[1522,819],[1531,814],[1480,819],[1437,916],[1423,934],[1300,720],[1312,722],
  [1320,718],[1302,689],[1312,686],[1302,672],[1320,672],[1339,670],[1339,653],[1366,655],[1366,640],[1320,632],[1331,621],
  [1302,604],[1429,674],[1398,612],[1366,582],[1398,577],[1414,584],[1441,566],[1331,571],[1491,566],[1531,566],[1531,664],
  [1551,624],[1570,614],[1600,685],[1622,701],[1622,658],[1582,525],[1641,568],[1661,561],[1680,610],[1692,583],[1611,844],
  [1600,909],[1641,886],[1820,600],[1980,600],[1948,569],[1970,558],[2169,594],[2208,573],[2298,601],[2248,553],[2315,566],
  [2401,587],[2405,566],[2397,580],[2429,556],
  [1361,443],[1509,448],[1530,374],[1410,316],[1491,229],[1383,213],[1390,208],[1432,213],[1420,184],[1441,193],[1451,190],
  [1347,176],[1339,84],[1357,87],[1331,63],[1347,53],[1441,50],[1509,70],[1530,90],[1610,94],[1610,66],[1640,73],[1679,97],
  [1688,90],[1710,102],[1759,63],[1770,95],[1770,106],[1790,128],[1800,108],[1810,77],[1810,56],[1868,108],[1910,73],
  [1958,85],[1980,58],[2017,94],[2039,128],[2009,174],[2018,160],[2039,150],[2070,150],[2089,108],[2129,174],[2158,143],
  [2158,121],[2179,200],[2208,190],[2197,230],[2226,229],[2235,229],[2226,205],[2237,137],[2248,70],[2268,193],[2280,190],
  [2279,232],[2289,70],[2299,160],[2309,225],[2309,184],[2319,208],[2329,193],[2341,198],[2350,229],[2370,213],[2370,147],
  [2389,73],[2421,67],[2440,220],[2448,193],[2460,210],[2480,220],[2480,254],[1578,525],[1641,254],[1641,245],[1600,222],
  [1621,201],[1670,198],[1719,198],[1780,222],[1820,215],[1910,196],[1939,240],[1929,263],[1910,332],[1910,374],[1929,308],
  [1970,280],[1958,343],[1980,353],[1990,340],[1970,425],[2018,392],[2039,340],[2029,321],[2029,259],[2029,229],[2049,282],
  [2070,392],[2089,318],[2097,338],[2097,276],[2108,419],[2119,329],[2119,254],[2129,306],[2139,346],[2139,337],[2158,338],
  [2158,320],[2188,346],[2208,396],[2217,334],[2217,307],[2229,334],[2226,406],[2237,403],[2248,413],[2248,295],[2258,332],
  [2268,337],[2279,312],[2289,300],[2309,338],[2309,300],[2319,374],[2329,338],[2341,312],[2350,266],[2341,258],[2360,268],
  [2360,305],[2370,327],[2380,303],[2389,331],[2399,283],[2409,261],[2421,312],[2431,306],[2440,334],[2450,290],[2460,290],
  [2480,334],[2488,309],
  [2217,448],[2248,461],[2258,464],[2268,467],[2280,464],[2289,452],[2299,467],[2309,493],[2309,527],[2319,564],[2329,551],
  [2331,537],[2341,508],[2341,471],[2350,503],[2350,454],[2360,549],[2360,505],[2370,527],[2380,508],[2380,479],[2389,534],
  [2389,471],[2399,484],[2399,461],[2409,522],[2409,568],[2409,587],[2421,537],[2421,498],[2431,484],[2431,558],[2440,467],
  [2440,542],[2450,537],[2450,505],[2460,488],[2460,551],[2470,498],[2470,469],[2480,527],[2480,486],[2488,532],[2488,464],
  [2479,450],[2460,455],[2450,459],[2431,448],[2399,448],[2389,445],[2370,466],[2349,474],[2329,471],[2319,457],[2309,435],
  [2319,425],[2289,421],[2278,416],[2268,392],[2279,374],[2268,367],[2299,374],[2309,403],[2319,401],[2329,403],[2341,401],
  [2350,394],[2360,421],[2360,392],[2370,372],[2380,401],[2389,396],[2389,372],[2399,406],[2399,382],[2409,367],[2421,403],
  [2431,403],[2431,387],[2440,361],[2450,421],[2460,421],[2460,363],[2470,392],[2480,406],[2480,377],[2488,421],[2488,387],
  [2347,419],[2337,454],[2368,479],[2380,455],[2395,461],[2409,469]
];

// --- Q, L3th = 0 : stray points high up
const q0Stray = [
  [328,2441],[338,2408],[50,2245],[199,2135],[88,1497],[740,1481],[1680,2307],[1560,2195],[1780,2173],[1871,1999],[1589,1996],
  [1619,1988],[1598,1840],[1899,1873],[1957,1868],[1899,1840],[1949,1840],[1790,1767],[1998,1701],[1998,1611],[1758,1623],
  [2151,1780],[2169,1787],[2111,1715],[2111,1592],[2099,1575],[2238,2418],[2268,2413],[2169,2282],[2429,2195],[1937,1497],
  [1998,1427],[2458,1256],[1611,1502],[1667,1508]
];

// --- Q, L3th = 0 : values saturated at the right edge (x = 2500)
const q0EdgeY = [
  3, 12, 22, 30, 41, 50, 58, 69, 77, 88, 96, 105, 117, 126, 134, 143, 155, 163, 172, 181, 190, 200, 209, 218, 228, 236, 245,
  254, 263, 272, 281, 292, 300, 309, 318, 327, 336, 346, 355, 364, 373, 382, 391, 401, 410, 419, 428, 437, 446, 456, 465,
  474, 483, 492, 502, 511, 520, 530, 540, 549, 558, 567, 577, 586, 595, 604, 613, 622, 632, 641, 650, 660, 669, 678, 688,
  697, 706, 714, 802, 806, 841, 875, 883, 948, 972, 1023, 1047, 1191, 1252, 1260, 1286, 1301, 1480, 1505, 1571, 1677,
  1734, 1800, 1840, 1898, 2045, 2078, 2119, 2184, 2241, 2274, 2307, 2397, 2446, 2492
];

// --- Q, L3th = 4
const q4Pts = [
  [1614,1506],[1594,1482],[1614,1474],[1943,1496],[1763,1490],[1772,1482],[1823,1484],[1793,1470],[1823,1470],[1743,1468],
  [1712,1464],[1712,1457],[1843,1459],[1772,1451],[1763,1446],[1823,1450],[1823,1436],[1635,1458],[1655,1455],[1666,1457],
  [1674,1450],[1623,1449],[1555,1453],[1563,1451],[1534,1440],[1563,1438],[1514,1435],[1523,1426],[1703,1438],[1734,1428],
  [1743,1423],[1782,1433],[1782,1423],[1833,1429],[1852,1434],[1852,1423],[1833,1419],[1862,1419],[1873,1423],[1893,1421],
  [1772,1414],[1712,1409],[1722,1397],[1743,1401],[1782,1397],[1813,1402],[1813,1394],[1833,1403],[1843,1409],[1904,1401],
  [1904,1381],[1933,1404],[1923,1356],[1904,1358],[1943,1351],[1883,1334],[1933,1323],[1993,1319],[2014,1313],[2113,1308],
  [1913,1248],[1963,1250],[1803,1379],[1833,1379],[1852,1371],[1793,1371],[1813,1368],[1783,1345],[1803,1347],[1852,1349],
  [1693,1361],[1703,1347],[1733,1330],[1666,1320],[1656,1310],[1673,1313],[1683,1291],[1813,1306],[1843,1314],[1862,1304],
  [1793,1280],[1823,1288],[1833,1267],[1862,1265],[1733,1282],[1743,1258],[1703,1254],[1712,1248],[1742,1213],[1793,1212],
  [1742,1217],[1833,1196],[1763,1179],[1723,1163],[1692,1165],[1663,1170],[1653,1174],[1633,1197],[1643,1234],[1673,1238],
  [1692,1232],[1623,1227],[1603,1226],[1594,1224],[1573,1234],[1563,1219],[1534,1231],[1624,1262],[1624,1280],[1624,1289],
  [1614,1280],[1594,1306],[1594,1320],[1594,1344],[1594,1351],[1573,1317],[1563,1320],[1553,1310],[1544,1323],[1553,1286],
  [1534,1265],[1553,1265],[1523,1280],[1523,1335],[1523,1360],[1523,1351],[1534,1340],[1544,1358],[1555,1368],[1573,1378],
  [1563,1364],[1582,1412],[1603,1409],[1614,1405],[1624,1395],[1614,1388],[1624,1385],[1643,1383],[1663,1384],[1643,1402],
  [1633,1409],[1624,1411],[1582,1407],[1603,1397],[1573,1402],[1553,1408],[1553,1403],[1544,1381],[1523,1385],[1534,1376],
  [1514,1375],[1493,1378],[1503,1401],[1493,1403],[1483,1409],[1473,1390],[1463,1381],[1454,1364],[1444,1381],[1435,1351],
  [1435,1330],[1444,1320],[1454,1313],[1463,1293],[1473,1303],[1483,1310],[1493,1313],[1503,1303],[1503,1282],[1493,1265],
  [1503,1252],[1473,1248],[1444,1238],[1454,1232],[1435,1224],[1425,1211],[1410,1197],[1393,1211],[1383,1231],[1374,1204],
  [1363,1211],[1353,1193],[1333,1234],[1343,1224],[1363,1234],[1374,1245],[1383,1252],[1393,1265],[1403,1286],[1413,1296],
  [1423,1313],[1413,1327],[1435,1337],[1444,1349],[1454,1354],[1463,1364],[1473,1371],[1483,1375],[1454,1334],[1473,1327],
  [1483,1334],[1502,1327],[1512,1344],[1492,1340],[1423,1334],[1404,1320],[1393,1306],[1383,1293],[1404,1279],[1413,1262],
  [1423,1252],[1444,1258],[1454,1279],[1473,1279],[1435,1272],[1444,1224],[1314,1207],[1333,1190],[1353,1180],[1313,1178],
  [1303,1172],[1284,1170],[1294,1163],[1272,1156],[1261,1152],[1284,1140],[1304,1132],[1324,1142],[1342,1135],[1361,1124],
  [1285,1122],[1255,1120],[1237,1115],[1242,1105],[1220,1098],[1253,1091],[1272,1077],[1254,1077],[1203,1075],[1193,1077],
  [1184,1050],[1172,1061],[1203,1055],[1222,1060],[1242,1060],[1264,1063],[1314,1075],[1333,1075],[1345,1057],[1362,1070],
  [1374,1059],[1393,1111],[1404,1104],[1423,1108],[1434,1094],[1454,1102],[1444,1081],[1435,1067],[1423,1074],[1421,1040],
  [1413,1043],[1434,1029],[1423,1019],[1435,1005],[1423,995],[1383,1026],[1412,1019],[1304,1029],[1314,1040],[1324,1029],
  [1285,1002],[1304,1009],[1253,1022],[1214,1020],[1203,1000],[1222,995],[1172,987],[1153,1026],[1153,1014],[1174,1029],
  [1124,980],[1153,968],[1124,928],[1124,875],[1153,880],[1174,889],[1203,908],[1232,896],[1264,871],[1264,930],[1295,933],
  [1303,945],[1303,961],[1344,968],[1353,979],[1374,947],[1393,978],[1404,978],[1404,961],[1413,886],[1423,894],[1434,894],
  [1443,954],[1374,862],[1393,872],[1314,856],[1254,851],[1203,846],[1162,830],[1104,834],[1063,845],[1063,775],[1104,786],
  [1143,800],[1242,780],[1242,769],[1222,758],[1313,806],[1363,822],[1393,781],[1383,773],[1404,758],[1383,762],[1324,719],
  [1303,713],[1353,739],[1162,733],[1143,717],[1222,689],[1483,819],[1534,815],[1514,1014],[1534,945],[1523,1124],
  [1562,1063],[1603,1082],[1603,1058],[1603,1043],[1594,1034],[1624,975],[1633,1007],[1633,938],[1603,908],[1643,887],
  [1614,845],[1703,868],[1734,868],[1703,1022],[1712,1033],[1743,1063],[1703,1113],[1703,1132],[1723,1096],[1733,1101],
  [1753,1128],[1763,1096],[1783,972],[1823,998],[1743,992],[1733,1163],[1693,1164],[1663,1144],[1653,1150],[1643,1125],
  [1633,1126],[1623,1146],[1623,1156],[1583,1146],[1653,1081],[1663,1077],[1712,1204],[1663,1219],[1693,1231],[1742,1257],
  [1187,594],[1264,594],[1291,607],[1390,654],[1449,675],[1571,667],[1584,645],[1525,684]
];

// =====================================================================================================================
const FONT = '"Liberation Sans", Arial, Helvetica, sans-serif';
const AXIS_COLOR = '#262626';

function fromCols(cols) {
  let out = [];
  cols.forEach(function (c) {
    c[1].forEach(function (y) { out.push([c[0], y]); });
  });
  return out;
}

let grids = [
  {left: 271, top: 250, width: 1155, height: 1220},
  {left: 1791, top: 250, width: 1156, height: 1220},
  {left: 271, top: 1859, width: 1155, height: 1221},
  {left: 1791, top: 1864, width: 1156, height: 1220}
];

let tickStyle = {show: true, inside: true, length: 14, lineStyle: {color: AXIS_COLOR, width: 3}};
let lineStyle = {show: true, onZero: false, lineStyle: {color: AXIS_COLOR, width: 3}};

function axisPair(gridIndex, ticks, name, isX) {
  const base = {
    gridIndex: gridIndex,
    type: 'value',
    min: ticks[0],
    max: ticks[ticks.length - 1],
    interval: ticks[1] - ticks[0],
    axisLine: lineStyle,
    axisTick: tickStyle,
    splitLine: {show: false}
  };
  const main = Object.assign({}, base, {
    position: isX ? 'bottom' : 'left',
    axisLabel: {
      show: true, fontSize: 52, color: AXIS_COLOR, fontFamily: FONT, margin: isX ? 36 : 24,
      formatter: function (v) { return String(v); }
    },
    name: name,
    nameLocation: 'middle',
    nameGap: isX ? 108 : 160,
    nameTextStyle: {fontSize: 59, color: AXIS_COLOR, fontFamily: FONT}
  });
  const mirror = Object.assign({}, base, {
    position: isX ? 'top' : 'right',
    axisLabel: {show: false}
  });
  return [main, mirror];
}

let xAxes = [].concat(
  axisPair(0, tTicks, 'Multispectral T (K)', true),
  axisPair(1, tTicks, 'Multispectral T (K)', true),
  axisPair(2, qTicks, 'Multispectral Q (ppm·m)', true),
  axisPair(3, qTicks, 'Multispectral Q (ppm·m)', true)
);
let yAxes = [].concat(
  axisPair(0, tTicks, 'Hyperspectral T (K)', false),
  axisPair(1, tTicks, 'Hyperspectral T (K)', false),
  axisPair(2, qTicks, 'Hyperspectral Q (ppm·m)', false),
  axisPair(3, qTicks, 'Hyperspectral Q (ppm·m)', false)
);

function scatter(panel, data, color) {
  return {
    type: 'scatter',
    xAxisIndex: panel * 2,
    yAxisIndex: panel * 2,
    data: data,
    symbol: 'circle',
    symbolSize: 6,
    clip: false,
    silent: true,
    itemStyle: {color: color, borderWidth: 0, opacity: 1}
  };
}

// rich text titles with subscript / superscript
let rich = {
  m: {fontSize: 53, fontFamily: FONT, fill: '#000', lineHeight: 60},
  s: {fontSize: 36, fontFamily: FONT, fill: '#000', lineHeight: 40, padding: [70, 0, 0, 0]},
  p: {fontSize: 36, fontFamily: FONT, fill: '#000', lineHeight: 40, padding: [0, 0, 62, 0]}
};

function subTitle(x, y, l3, r2) {
  return {
    type: 'text',
    x: x,
    y: y,
    silent: true,
    style: {
      text: '{m|L3}{s|th}{m|  =  ' + l3 + ', R}{p|2}{m|  =  ' + r2 + '}',
      rich: rich,
      align: 'center',
      verticalAlign: 'middle'
    }
  };
}

function mainTitle(x, y, text) {
  return {
    type: 'text',
    x: x,
    y: y,
    silent: true,
    style: {text: text, fontSize: 75, fontFamily: FONT, fill: '#000', align: 'center', verticalAlign: 'middle'}
  };
}

// =====================================================================================================================
const chartDom = document.getElementById('chart');
const chart = echarts.init(chartDom, null, {renderer: 'canvas'});

let option = {
  backgroundColor: '#ffffff',
  animation: false,
  grid: grids,
  xAxis: xAxes,
  yAxis: yAxes,
  graphic: [
    mainTitle(1549, 66, 'T Bunsen Flame, 6 filters'),
    mainTitle(1549, 1677, 'Q Bunsen Flame, 6 filters'),
    subTitle(848, 190, '0', '0.1'),
    subTitle(2369, 190, '4', '0.36'),
    subTitle(848, 1798, '0', '0.0035'),
    subTitle(2369, 1803, '4', '0.3')
  ],
  series: [
    scatter(0, fromCols(t0Cols).concat(t0Upper, t0Band, t0Low), '#000000'),
    scatter(1, fromCols(t4Cols).concat(t4Stray), '#000000'),
    scatter(2, q0Left.concat(q0Cloud, q0Right, q0Stray, q0EdgeY.map(function (y) { return [2500, y]; })), '#0000ff'),
    scatter(3, q4Pts, '#0000ff')
  ]
};

option && chart.setOption(option);
</script>
</body>
</html>
